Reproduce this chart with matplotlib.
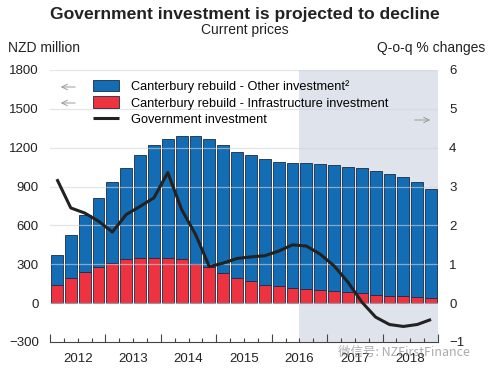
import matplotlib
matplotlib.use("Agg")
from matplotlib import pyplot as plt
import numpy as np

plt.rcParams['font.family'] = ['Liberation Sans', 'DejaVu Sans']

# quarterly data 2012Q1 - 2018Q4
years = ['2012', '2013', '2014', '2015', '2016', '2017', '2018']
infra = [140, 197, 243, 281, 311, 337, 350, 352, 350, 337, 306, 276, 235, 197,
         168, 140, 130, 117, 110, 102, 92, 84, 77, 66, 59, 54, 46, 38]
other = [235, 331, 439, 528, 626, 710, 794, 866, 921, 957, 988, 995, 983, 970,
         978, 970, 963, 968, 975, 973, 975, 970, 965, 958, 939, 919, 888, 843]
gov = [3.19, 2.45, 2.32, 2.11, 1.83, 2.28, 2.49, 2.71, 3.36, 2.41, 1.77, 0.94, 1.03, 1.15,
       1.19, 1.22, 1.34, 1.50, 1.47, 1.26, 0.96, 0.54, 0.03, -0.36, -0.55, -0.60, -0.55, -0.42]

blue = '#136db4'
red = '#ee3340'
edge = '#1d2a44'

fig = plt.figure(figsize=(4.89, 3.71), dpi=100)
ax = fig.add_axes([50/489, 29/371, 388/489, 272/371])
ax2 = ax.twinx()

x = np.arange(len(infra))
ax.axvspan(17.5, 27.5, color='#dfe4ec', zorder=0, lw=0)
b2 = ax.bar(x, other, 0.86, bottom=infra, color=blue, edgecolor=edge, lw=0.6, zorder=2,
            label='Canterbury rebuild - Other investment²')
b1 = ax.bar(x, infra, 0.86, color=red, edgecolor=edge, lw=0.6, zorder=2,
            label='Canterbury rebuild - Infrastructure investment')
for v in range(0, 1801, 300):
    ax.axhline(v, color='#cfd4dc', alpha=0.6, lw=0.9, zorder=3)

ln, = ax2.plot(x, gov, color='#222222', lw=2.2, solid_capstyle='butt',
               label='Government investment')

ax.set_xlim(-0.5, 27.5)
ax.set_ylim(-300, 1800)
ax2.set_ylim(-1, 6)
ax.set_yticks(range(-300, 1801, 300))
ax2.set_yticks(range(-1, 7))
for a in (ax, ax2):
    for s in ('top', 'left', 'right', 'bottom'):
        a.spines[s].set_visible(False)
ax.spines['bottom'].set_visible(True)
ax.spines['bottom'].set_color('#444444')
ax.spines['bottom'].set_linewidth(0.8)
ax.tick_params(axis='y', length=0, labelsize=9.5, pad=8, colors='#222222')
ax2.tick_params(axis='y', length=0, labelsize=9.5, pad=8, colors='#222222')

ax.set_xticks(np.arange(-0.5, 28, 4))
ax.set_xticks(np.arange(-0.5, 28, 1), minor=True)
ax.set_xticklabels([])
ax.tick_params(axis='x', which='major', direction='in', length=6, color='#444444', width=0.8)
ax.tick_params(axis='x', which='minor', direction='in', length=3, color='#444444', width=0.8)
for i, y in enumerate(years):
    ax.text(1.5 + 4*i, -0.04, y, transform=ax.get_xaxis_transform(),
            ha='center', va='top', fontsize=9.5, color='#222222')

ax.legend([b2, b1, ln], [b2.get_label(), b1.get_label(), ln.get_label()],
          loc='upper left', bbox_to_anchor=(0.111, 0.965), frameon=False,
          fontsize=9.2, handlelength=2.0, handleheight=1.0, labelspacing=0.3,
          handletextpad=1.0, borderpad=0, borderaxespad=0)

# axis arrows
for yy in (87, 103):
    ax.annotate('', xy=((58-50)/388, 1-(yy-70)/272), xytext=((78-50)/388, 1-(yy-70)/272),
                xycoords='axes fraction',
                arrowprops=dict(arrowstyle='->', color='#999999', lw=0.7))
ax.annotate('', xy=((433-50)/388, 1-(120-70)/272), xytext=((412-50)/388, 1-(120-70)/272),
            xycoords='axes fraction',
            arrowprops=dict(arrowstyle='->', color='#999999', lw=0.7))

fig.text(0.5, 1-14/371, 'Government investment is projected to decline', ha='center', va='center',
         fontsize=12.6, fontweight='bold', color='#222222')
fig.text(0.5, 1-30/371, 'Current prices', ha='center', va='center', fontsize=10, color='#222222')
fig.text(8/489, 1-48/371, 'NZD million', ha='left', va='center', fontsize=10, color='#222222')
fig.text(485/489, 1-48/371, 'Q-o-q % changes', ha='right', va='center', fontsize=10, color='#222222')

# watermark as in the source image
fig.text(338/489, 1-352/371, '微信号: NZFirstFinance', ha='left', va='center', fontsize=9,
         color='#888888', alpha=0.7, family=['Noto Sans CJK SC', 'DejaVu Sans'])

fig.savefig('out.png', dpi=100)
